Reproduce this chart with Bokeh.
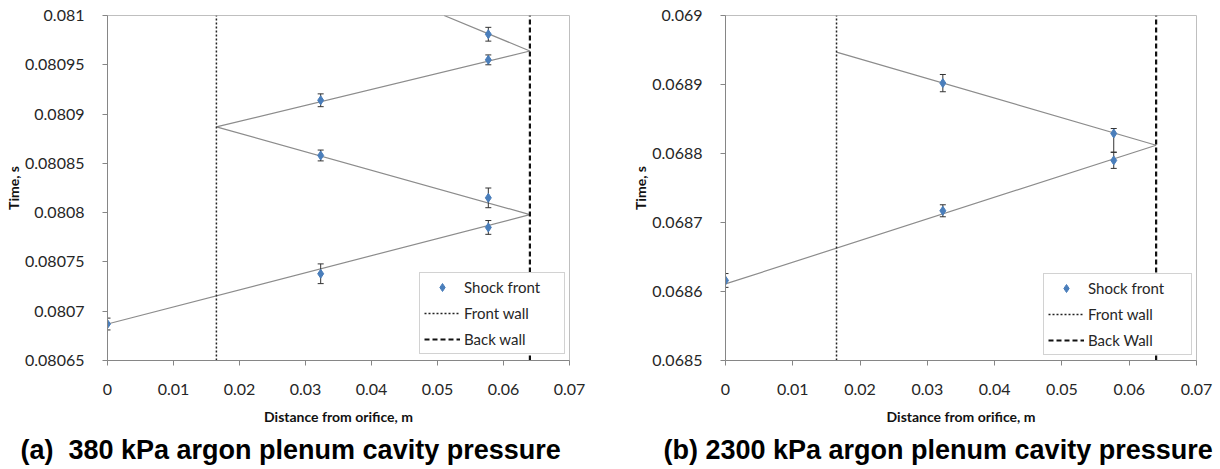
from bokeh.plotting import figure
from bokeh.layouts import row
from bokeh.models import (FixedTicker, PrintfTickFormatter, Legend, LegendItem,
                          Title, Range1d)
from bokeh.embed import file_html
from bokeh.resources import INLINE

# ---------------- data (a) 380 kPa ----------------
a_dist = [0, 0.0323, 0.0577, 0.0577, 0.0323, 0.0323, 0.0577, 0.0577]
a_time = [0.080687, 0.080738, 0.080785, 0.080815, 0.080858, 0.080914, 0.080955, 0.080981]
a_err = [0.000006, 0.00001, 0.000007, 0.00001, 0.0000055, 0.0000065, 0.000005, 0.000007]
a_fit_dist = [0, 0.064, 0.0165, 0.064, 0.051]
a_fit_time = [0.080687, 0.080798, 0.080887, 0.080964, 0.081]
a_yticks = [0.08065, 0.0807, 0.08075, 0.0808, 0.08085, 0.0809, 0.08095, 0.081]

# ---------------- data (b) 2300 kPa ----------------
b_dist = [0, 0.0323, 0.0577, 0.0577, 0.0323]
b_time = [0.068616, 0.068717, 0.068790, 0.068829, 0.068902]
b_err_plus = [0.00001, 0.0000087, 0.0000116, 0.0000072, 0.0000125]
b_err_minus = [0.00001, 0.0000087, 0.0000116, 0.000027, 0.0000125]
b_fit_dist = [0, 0.064, 0.0165]
b_fit_time = [0.068611, 0.068812, 0.068947]
b_yticks = [0.0685, 0.0686, 0.0687, 0.0688, 0.0689, 0.069]

xticks = [0, 0.01, 0.02, 0.03, 0.04, 0.05, 0.06, 0.07]
front_wall = 0.0165
back_wall = 0.064

TICK_FONT = "Lato"
BLUE = "#4A7EBB"


def make_plot(dist, time, err_p, err_m, fit_d, fit_t, yticks, legend_labels,
              caption, b_left, b_right, b_bottom, legend_loc, cap_offset, label_w):
    ylo, yhi = yticks[0], yticks[-1]
    p = figure(width=610, height=469, output_backend="svg", toolbar_location=None,
               x_range=Range1d(0, 0.07), y_range=Range1d(ylo, yhi),
               min_border_left=b_left, min_border_right=b_right,
               min_border_top=15, min_border_bottom=b_bottom)
    p.grid.visible = False
    p.outline_line_color = "#BFBFBF"
    p.background_fill_color = "white"
    p.border_fill_color = "white"

    for ax in (p.xaxis[0], p.yaxis[0]):
        ax.axis_line_color = "#868686"
        ax.major_tick_line_color = "#868686"
        ax.major_tick_out = 5
        ax.major_tick_in = 0
        ax.minor_tick_line_color = None
        ax.major_label_text_font = TICK_FONT
        ax.major_label_text_font_size = "16px"
        ax.major_label_text_color = "#262626"
        ax.axis_label_text_font = TICK_FONT
        ax.axis_label_text_font_size = "14px"
        ax.axis_label_text_font_style = "bold"
        ax.axis_label_text_color = "#111111"
        ax.formatter = PrintfTickFormatter(format="%g")
    p.xaxis.ticker = FixedTicker(ticks=xticks)
    p.yaxis.ticker = FixedTicker(ticks=yticks)
    p.xaxis.axis_label = "Distance from orifice, m"
    p.yaxis.axis_label = "Time, s"
    p.yaxis.major_label_standoff = 18
    p.yaxis.axis_label_standoff = 0
    p.xaxis.major_label_standoff = 18
    p.xaxis.axis_label_standoff = 10

    # fit lines
    p.line(fit_d, fit_t, line_color="#8C8C8C", line_width=1.2)

    # walls
    fw = p.segment(x0=[front_wall], y0=[ylo], x1=[front_wall], y1=[yhi],
                   line_color="#222222", line_width=1.5, line_dash="2 2")
    bw = p.segment(x0=[back_wall], y0=[ylo], x1=[back_wall], y1=[yhi],
                   line_color="#111111", line_width=2.2, line_dash="5 3")

    # error bars
    up = [t + e for t, e in zip(time, err_p)]
    lo = [t - e for t, e in zip(time, err_m)]
    p.segment(x0=dist, y0=lo, x1=dist, y1=up, line_color="#333333", line_width=1)
    p.scatter(dist, up, marker="dash", size=6, line_color="#333333", line_width=1)
    p.scatter(dist, lo, marker="dash", size=6, line_color="#333333", line_width=1)

    sf = p.scatter(dist, time, marker="diamond", size=9, fill_color=BLUE,
                   line_color=BLUE)

    legend = Legend(items=[LegendItem(label=legend_labels[0], renderers=[sf]),
                           LegendItem(label=legend_labels[1], renderers=[fw]),
                           LegendItem(label=legend_labels[2], renderers=[bw])],
                    location=legend_loc, padding=4, margin=0, spacing=6,
                    glyph_width=36, glyph_height=20, label_height=20,
                    label_standoff=4, label_width=label_w,
                    label_text_font=TICK_FONT, label_text_font_size="15px",
                    label_text_color="#262626",
                    border_line_color="#A6A6A6", border_line_width=1,
                    background_fill_color="white", background_fill_alpha=1)
    p.add_layout(legend, "center")

    p.add_layout(Title(text=caption, align="left", offset=cap_offset,
                       text_font="Liberation Sans", text_font_size="27px",
                       text_font_style="bold", text_color="black", standoff=10),
                 "below")
    return p


pa = make_plot(a_dist, a_time, a_err, a_err, a_fit_dist, a_fit_time, a_yticks,
               ["Shock front", "Front wall", "Back wall"],
               "(a) \u00a0380 kPa argon plenum cavity pressure",
               107, 41, 109, (312, 6), -87, 96)
pb = make_plot(b_dist, b_time, b_err_plus, b_err_minus, b_fit_dist, b_fit_time, b_yticks,
               ["Shock front", "Front wall", "Back Wall"],
               "(b) 2300 kPa argon plenum cavity pressure",
               115, 24, 108, (318, 5), -62, 99)

layout = row(pa, pb)
open("out.html", "w").write(file_html(layout, INLINE))
